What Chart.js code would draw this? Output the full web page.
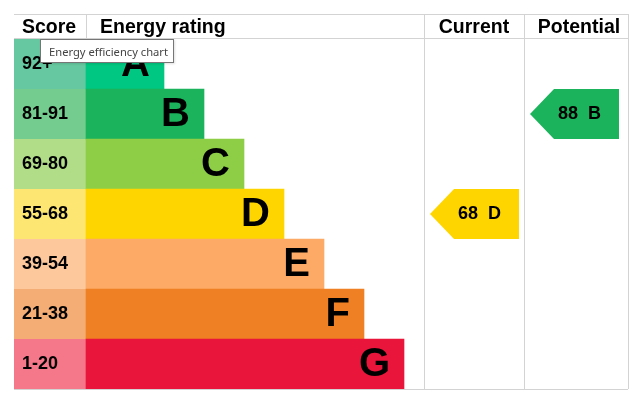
<!DOCTYPE html>
<html>
<head>
<meta charset="utf-8">
<script src="https://cdn.jsdelivr.net/npm/chart.js@4"></script>
<style>
  html, body { margin: 0; padding: 0; background: #fff; }
  #wrap { position: relative; width: 641px; height: 408px; }
  #tip {
    position: absolute; left: 40px; top: 39px; width: 134px; height: 24px;
    box-sizing: border-box; border: 1px solid #767676; background: #fff;
    font: 11.2px "Noto Sans", "Open Sans", sans-serif; color: #444;
    line-height: 23px; padding-left: 8px; white-space: nowrap;
    box-shadow: 1px 1px 2px rgba(0,0,0,0.12);
  }
</style>
</head>
<body>
<div id="wrap">
  <canvas id="c"></canvas>
  <div id="tip">Energy efficiency chart</div>
</div>
<script>
// ---- data ----
const ratings = ['A', 'B', 'C', 'D', 'E', 'F', 'G'];
const scoreRanges = ['92+', '81-91', '69-80', '55-68', '39-54', '21-38', '1-20'];
const barLengths = [78, 118, 158, 198, 238, 278, 318];
const bandColors = ['#00c781', '#1bb35b', '#8dce46', '#ffd500', '#fcaa65', '#ef8023', '#e9153b'];
const scoreColors = ['#66c8a0', '#74cd8e', '#b1dd89', '#fde672', '#fdc89c', '#f5ad76', '#f5788a'];
const columnTitles = ['Score', 'Energy rating', 'Current', 'Potential'];
const currentScore = 68, currentRating = 'D';
const potentialScore = 88, potentialRating = 'B';

// ---- layout (scale units) ----
const scoreColWidth = 72;
const currentColStart = 338, potentialColStart = 438, tableEnd = 542;
const arrowLength = 89;

const FONT = '"Liberation Sans", Arial, sans-serif';
const gridColor = '#d3d3d3';

const epcPlugin = {
  id: 'epc',
  beforeDatasetsDraw(chart) {
    const ctx = chart.ctx, x = chart.scales.x, meta = chart.getDatasetMeta(0);
    const top = chart.chartArea.top, bottom = chart.chartArea.bottom;
    const headerTop = top - 25;
    ctx.save();
    meta.data.forEach((bar, i) => {
      const h = bar.height;
      ctx.fillStyle = scoreColors[i];
      ctx.fillRect(x.left, bar.y - h / 2, x.getPixelForValue(0) - x.left, h);
    });
    ctx.strokeStyle = gridColor;
    ctx.lineWidth = 1;
    const L = x.left, R = x.getPixelForValue(tableEnd);
    const hl = (y) => { ctx.beginPath(); ctx.moveTo(L, y + 0.5); ctx.lineTo(R, y + 0.5); ctx.stroke(); };
    hl(headerTop); hl(top - 1); hl(bottom);
    const vl = (v, y0, y1) => { const px = Math.round(x.getPixelForValue(v)) + 0.5; ctx.beginPath(); ctx.moveTo(px, y0); ctx.lineTo(px, y1); ctx.stroke(); };
    vl(0, headerTop, top);
    vl(currentColStart, headerTop, bottom);
    vl(potentialColStart, headerTop, bottom);
    vl(tableEnd, headerTop, bottom);
    ctx.restore();
  },
  afterDatasetsDraw(chart) {
    const ctx = chart.ctx, x = chart.scales.x, meta = chart.getDatasetMeta(0);
    const top = chart.chartArea.top;
    const headerMid = top - 11.5;
    ctx.save();
    ctx.fillStyle = '#000';
    ctx.font = 'bold 19.5px ' + FONT;
    ctx.textBaseline = 'middle';
    ctx.textAlign = 'left';
    ctx.fillText(columnTitles[0], x.left + 8, headerMid);
    ctx.fillText(columnTitles[1], x.getPixelForValue(0) + 14, headerMid);
    ctx.textAlign = 'center';
    ctx.fillText(columnTitles[2], (x.getPixelForValue(currentColStart) + x.getPixelForValue(potentialColStart)) / 2, headerMid);
    ctx.fillText(columnTitles[3], (x.getPixelForValue(potentialColStart) + x.getPixelForValue(tableEnd)) / 2 + 3, headerMid);
    meta.data.forEach((bar, i) => {
      ctx.textAlign = 'left';
      ctx.font = 'bold 18px ' + FONT;
      ctx.fillText(scoreRanges[i], x.left + 8, bar.y);
      ctx.textAlign = 'right';
      ctx.font = 'bold 40px ' + FONT;
      ctx.fillText(ratings[i], bar.x - 14, bar.y + 1);
    });
    const arrow = (rating, score, colStart) => {
      const i = ratings.indexOf(rating);
      const bar = meta.data[i];
      const h = bar.height;
      const tipX = x.getPixelForValue(colStart) + 6;
      const rightX = tipX + arrowLength;
      const bodyX = tipX + 24;
      const y0 = bar.y - h / 2, y1 = bar.y + h / 2;
      ctx.fillStyle = bandColors[i];
      ctx.beginPath();
      ctx.moveTo(tipX, bar.y);
      ctx.lineTo(bodyX, y0);
      ctx.lineTo(rightX, y0);
      ctx.lineTo(rightX, y1);
      ctx.lineTo(bodyX, y1);
      ctx.closePath();
      ctx.fill();
      ctx.fillStyle = '#000';
      ctx.font = 'bold 18px ' + FONT;
      ctx.textAlign = 'center';
      ctx.fillText(score + '  ' + rating, (tipX + rightX) / 2 + 5, bar.y);
    };
    arrow(currentRating, currentScore, currentColStart);
    arrow(potentialRating, potentialScore, potentialColStart);
    ctx.restore();
  }
};

new Chart(document.getElementById('c'), {
  type: 'bar',
  data: {
    labels: ratings,
    datasets: [{
      data: barLengths,
      backgroundColor: bandColors,
      borderWidth: 0,
      barPercentage: 1,
      categoryPercentage: 1
    }]
  },
  options: {
    indexAxis: 'y',
    responsive: true,
    maintainAspectRatio: false,
    animation: false,
    layout: { padding: { left: 14, right: 13, top: 39, bottom: 19 } },
    scales: {
      x: { type: 'linear', min: -scoreColWidth, max: tableEnd, display: false },
      y: { display: false }
    },
    plugins: { legend: { display: false }, tooltip: { enabled: false } }
  },
  plugins: [epcPlugin]
});
</script>
</body>
</html>
